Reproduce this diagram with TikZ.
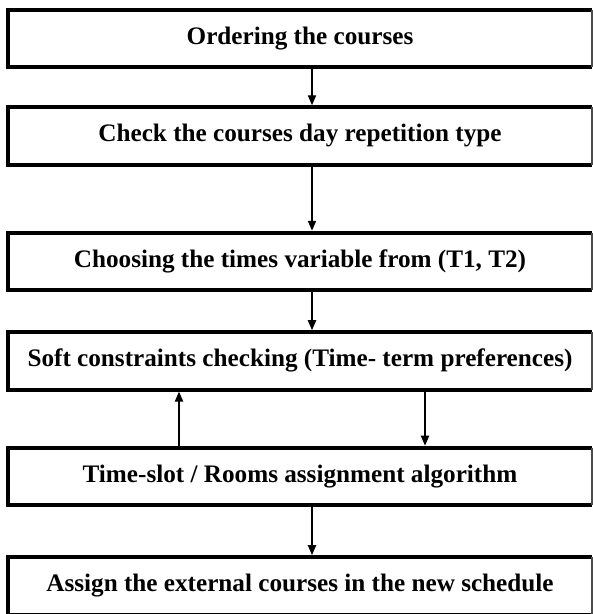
\documentclass[tikz,border=0pt]{standalone}
\usepackage{fontspec}
\setmainfont{Liberation Serif}
\usetikzlibrary{arrows.meta, positioning}

\begin{document}
\begin{tikzpicture}[node distance=1cm, stage/.style={minimum width=17.49cm, minimum height=1.71cm, inner sep=0pt, font=\bfseries\fontsize{21.5}{25}\selectfont}, flow/.style={-{Triangle[width=7pt,length=8.5pt]}, line width=1.2pt, shorten >=1.7pt}]
\useasboundingbox (0,0) rectangle (17.79,-18.42);
% Stages, top to bottom
\node[stage] (order) at (9.0,-1.155) {Ordering the courses};
\node[stage, below=1.2cm of order] (repeat) {Check the courses day repetition type};
\node[stage, below=2.04cm of repeat] (times) {Choosing the times variable from (T1, T2)};
\node[stage, below=1.26cm of times] (soft) {Soft constraints checking (Time- term preferences)};
\node[stage, below=1.74cm of soft] (slot) {Time-slot / Rooms assignment algorithm};
\node[stage, below=1.56cm of slot] (external) {Assign the external courses in the new schedule};

% Borders: heavy on three sides, thin on the right
\foreach \n in {order,repeat,times,soft,slot,external} {
  \draw[line width=3.4pt] (\n.north east) -- (\n.north west) -- (\n.south west) -- (\n.south east);
  \draw[line width=1.3pt, black!70] (\n.north east) -- (\n.south east);
}

% Main flow
\coordinate (spine) at (9.36,0);
\draw[flow] (order.south -| spine) -- (repeat.north -| spine);
\draw[flow] (repeat.south -| spine) -- (times.north -| spine);
\draw[flow] (times.south -| spine) -- (soft.north -| spine);
\draw[flow] (slot.south -| spine) -- (external.north -| spine);

% Loop between checking and assignment
\coordinate (up) at (5.37,0);
\coordinate (down) at (12.75,0);
\draw[flow] (slot.north -| up) -- (soft.south -| up);
\draw[flow] (soft.south -| down) -- (slot.north -| down);
\end{tikzpicture}
\end{document}
